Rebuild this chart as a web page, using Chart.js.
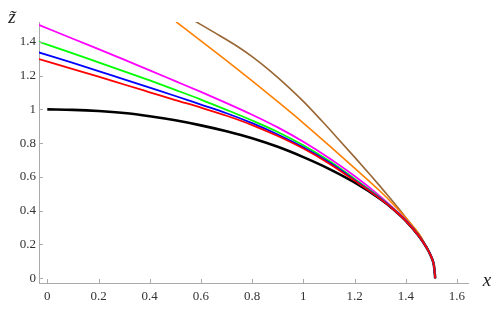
<!DOCTYPE html>
<html>
<head>
<meta charset="utf-8">
<script src="https://cdn.jsdelivr.net/npm/chart.js@4/dist/chart.umd.min.js"></script>
<style>
    body { margin: 0; background: #fff; }
    #wrap { width: 499px; height: 309px; }
</style>
</head>
<body>
<div id="wrap"><canvas id="plot" width="499" height="309"></canvas></div>
<script>
// tick labels
var xTicks = [0, 0.2, 0.4, 0.6, 0.8, 1, 1.2, 1.4, 1.6];
var zTicks = [0, 0.2, 0.4, 0.6, 0.8, 1, 1.2, 1.4];

// curves, [x, z]
var blackCurve = [[0, 1.0], [0.1, 0.997], [0.2, 0.99], [0.3, 0.978], [0.4, 0.959], [0.5, 0.935], [0.6, 0.905],
    [0.7, 0.87], [0.8, 0.829], [0.9, 0.778], [1.0, 0.717], [1.1, 0.648], [1.2, 0.567], [1.3, 0.469],
    [1.35, 0.41], [1.4, 0.34], [1.45, 0.252], [1.48, 0.185], [1.5, 0.125], [1.51, 0.075], [1.515, 0]];
var redCurve = [[-0.033, 1.298], [0.1, 1.238], [0.2, 1.193], [0.3, 1.147], [0.4, 1.101], [0.5, 1.055], [0.6, 1.01],
    [0.7, 0.962], [0.8, 0.907], [0.9, 0.842], [1.0, 0.768], [1.1, 0.68], [1.2, 0.578], [1.3, 0.47],
    [1.35, 0.41], [1.4, 0.34], [1.45, 0.252], [1.48, 0.185], [1.5, 0.125], [1.51, 0.075], [1.515, 0]];
var blueCurve = [[-0.033, 1.337], [0.1, 1.275], [0.2, 1.226], [0.3, 1.177], [0.4, 1.128], [0.5, 1.079], [0.6, 1.028],
    [0.7, 0.977], [0.8, 0.918], [0.9, 0.851], [1.0, 0.775], [1.1, 0.686], [1.2, 0.582], [1.3, 0.472],
    [1.35, 0.411], [1.4, 0.341], [1.45, 0.252], [1.48, 0.185], [1.5, 0.125], [1.51, 0.075], [1.515, 0]];
var greenCurve = [[-0.033, 1.40], [0.1, 1.331], [0.2, 1.278], [0.3, 1.225], [0.4, 1.171], [0.5, 1.115], [0.6, 1.058],
    [0.7, 0.997], [0.8, 0.934], [0.9, 0.866], [1.0, 0.787], [1.1, 0.695], [1.2, 0.588], [1.3, 0.476],
    [1.35, 0.413], [1.4, 0.342], [1.45, 0.253], [1.48, 0.186], [1.5, 0.125], [1.51, 0.075], [1.515, 0]];
var magentaCurve = [[-0.033, 1.50], [0.1, 1.418], [0.2, 1.356], [0.3, 1.294], [0.4, 1.231], [0.5, 1.167], [0.6, 1.103],
    [0.7, 1.037], [0.8, 0.968], [0.9, 0.893], [1.0, 0.808], [1.1, 0.712], [1.2, 0.605], [1.3, 0.485],
    [1.35, 0.418], [1.4, 0.345], [1.45, 0.254], [1.48, 0.186], [1.5, 0.125], [1.51, 0.075], [1.515, 0]];
var orangeCurve = [[0.503, 1.518], [0.6, 1.405], [0.7, 1.288], [0.8, 1.168], [0.9, 1.045], [1.0, 0.919], [1.1, 0.787],
    [1.2, 0.652], [1.3, 0.515], [1.35, 0.44], [1.4, 0.358], [1.43, 0.305], [1.456, 0.253],
    [1.48, 0.186], [1.5, 0.125], [1.51, 0.075], [1.515, 0]];
var brownCurve = [[0.57, 1.528], [0.65, 1.457], [0.74, 1.375], [0.8, 1.312], [0.87, 1.228], [0.93, 1.148], [1.0, 1.047],
    [1.07, 0.935], [1.13, 0.835], [1.2, 0.717], [1.26, 0.614], [1.3, 0.544], [1.34, 0.472], [1.38, 0.398],
    [1.42, 0.32], [1.456, 0.25], [1.48, 0.186], [1.5, 0.125], [1.51, 0.075], [1.515, 0]];

var serif = "'Liberation Serif', 'Times New Roman', serif";

function toPoints(curve) {
    return curve.map(p => ({ x: p[0], y: p[1] }));
}

function makeSet(curve, color, width, order) {
    return {
        data: toPoints(curve),
        borderColor: color,
        borderWidth: width,
        pointRadius: 0,
        fill: false,
        showLine: true,
        cubicInterpolationMode: 'monotone',
        order: order
    };
}

// inward ticks and axis titles, Mathematica style
var decorPlugin = {
    id: 'decor',
    afterDraw: function(chart) {
        var ctx = chart.ctx;
        var xs = chart.scales.x, ys = chart.scales.y;
        var area = chart.chartArea;
        ctx.save();
        ctx.strokeStyle = '#aaa';
        ctx.lineWidth = 1;
        ctx.beginPath();
        xTicks.forEach(v => {
            var px = Math.round(xs.getPixelForValue(v)) + 0.5;
            ctx.moveTo(px, area.bottom);
            ctx.lineTo(px, area.bottom - 4);
        });
        zTicks.forEach(v => {
            var py = Math.round(ys.getPixelForValue(v)) + 0.5;
            ctx.moveTo(area.left, py);
            ctx.lineTo(area.left + 4, py);
        });
        ctx.stroke();

        ctx.fillStyle = '#222';
        ctx.font = "italic 19px " + serif;
        ctx.textAlign = 'center';
        ctx.textBaseline = 'middle';
        ctx.fillText('x', 487, 281);
        ctx.fillText('z\u0303', 12, 18);
        ctx.restore();
    }
};

var ctx = document.getElementById('plot').getContext('2d');
new Chart(ctx, {
    type: 'scatter',
    data: {
        datasets: [
            makeSet(brownCurve, '#996633', 1.6, 7),
            makeSet(orangeCurve, '#ff8000', 1.6, 6),
            makeSet(blackCurve, '#000000', 2.6, 5),
            makeSet(magentaCurve, '#ff00ff', 1.8, 4),
            makeSet(greenCurve, '#00ff00', 1.8, 3),
            makeSet(blueCurve, '#0000ff', 1.8, 2),
            makeSet(redCurve, '#ff0000', 1.8, 1)
        ]
    },
    options: {
        responsive: false,
        animation: false,
        layout: { padding: { left: 0, right: 31, top: 22, bottom: 0 } },
        plugins: {
            legend: { display: false },
            tooltip: { enabled: false }
        },
        scales: {
            x: {
                type: 'linear',
                min: -0.0324,
                max: 1.643,
                afterBuildTicks: function(scale) { scale.ticks = xTicks.map(v => ({ value: v })); },
                afterFit: function(scale) { scale.height = 26; },
                grid: { drawOnChartArea: false, drawTicks: false },
                border: { display: true, color: '#aaa', width: 1 },
                ticks: {
                    padding: 6,
                    color: '#333',
                    font: { family: serif, size: 13 },
                    callback: v => String(Math.round(v * 10) / 10)
                }
            },
            y: {
                type: 'linear',
                min: -0.028,
                max: 1.517,
                afterBuildTicks: function(scale) { scale.ticks = zTicks.map(v => ({ value: v })); },
                afterFit: function(scale) { scale.width = 39; },
                grid: { drawOnChartArea: false, drawTicks: false },
                border: { display: true, color: '#aaa', width: 1 },
                ticks: {
                    padding: 3,
                    color: '#333',
                    font: { family: serif, size: 13 },
                    callback: v => String(Math.round(v * 10) / 10)
                }
            }
        }
    },
    plugins: [decorPlugin]
});
</script>
</body>
</html>
